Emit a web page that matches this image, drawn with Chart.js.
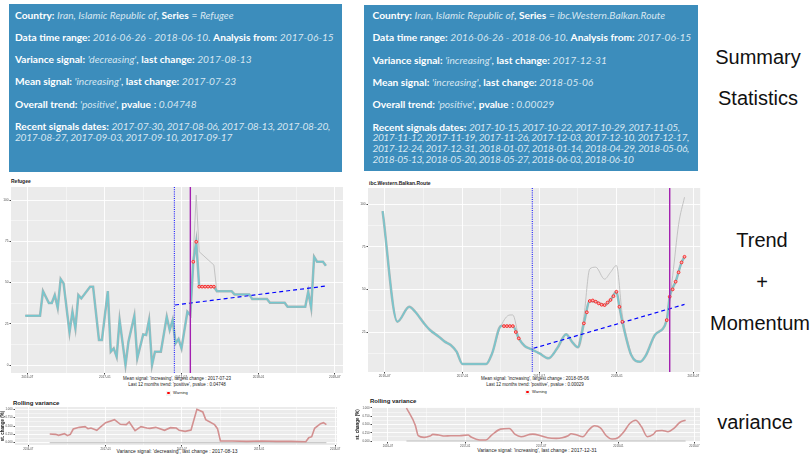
<!DOCTYPE html>
<html>
<head>
<meta charset="utf-8">
<script src="https://cdn.jsdelivr.net/npm/chart.js@4.4.1/dist/chart.umd.min.js"></script>
<style>
  body { margin: 0; background: #fff; width: 811px; height: 455px; overflow: hidden; position: relative; font-family: "Liberation Sans", Arial, sans-serif; }
  .box { position: absolute; background: #3c8dbc; color: #fff; font-family: Lato, "Open Sans", sans-serif; font-size: 10.2px; box-sizing: border-box; overflow: hidden; }
  .box p { margin: 0 0 11.6px 0; line-height: 10.7px; white-space: nowrap; }
  .box b { font-weight: 700; }
  .box i { color: #d6e6f1; font-weight: 400; }
  .box p.rec i { letter-spacing: -0.32px; }
  #box2 p.rec i { letter-spacing: -0.5px; }
  #box1 { left: 9px; top: 4px; width: 333px; height: 168px; padding: 5.6px 3px 0 6px; }
  #box2 { left: 364px; top: 5px; width: 334px; height: 166px; padding: 5.2px 3px 0 8.5px; }
  .side { position: absolute; font-size: 20px; color: #111; line-height: 20px; white-space: nowrap; transform: translateX(-50%); }
  .t { position: absolute; white-space: nowrap; line-height: 1; color: #222; }
  canvas { position: absolute; }
  .key { position: absolute; width: 5px; height: 5px; background: #f2f2f2; }
  .key::after { content: ""; position: absolute; left: 1.2px; top: 1.2px; width: 2.6px; height: 2.6px; border-radius: 50%; background: #f00; }
</style>
</head>
<body>

<div class="box" id="box1">
  <p><b>Country:</b> <i>Iran, Islamic Republic of</i>, <b>Series</b> = <i>Refugee</i></p>
  <p><b>Data time range:</b> <i>2016-06-26 - 2018-06-10</i>. <b>Analysis from:</b> <i>2017-06-15</i></p>
  <p><b>Variance signal:</b> <i>'decreasing'</i>, <b>last change:</b> <i>2017-08-13</i></p>
  <p><b>Mean signal:</b> <i>'increasing'</i>, <b>last change:</b> <i>2017-07-23</i></p>
  <p><b>Overall trend:</b> <i>'positive'</i>, <b>pvalue</b> : <i>0.04748</i></p>
  <p class="rec"><b>Recent signals dates:</b> <i>2017-07-30, 2017-08-06, 2017-08-13, 2017-08-20,<br>2017-08-27, 2017-09-03, 2017-09-10, 2017-09-17</i></p>
</div>

<div class="box" id="box2">
  <p><b>Country:</b> <i>Iran, Islamic Republic of</i>, <b>Series</b> = <i>ibc.Western.Balkan.Route</i></p>
  <p><b>Data time range:</b> <i>2016-06-26 - 2018-06-10</i>. <b>Analysis from:</b> <i>2017-06-15</i></p>
  <p><b>Variance signal:</b> <i>'increasing'</i>, <b>last change:</b> <i>2017-12-31</i></p>
  <p><b>Mean signal:</b> <i>'increasing'</i>, <b>last change:</b> <i>2018-05-06</i></p>
  <p><b>Overall trend:</b> <i>'positive'</i>, <b>pvalue</b> : <i>0.00029</i></p>
  <p class="rec"><b>Recent signals dates:</b> <i>2017-10-15, 2017-10-22, 2017-10-29, 2017-11-05,<br>2017-11-12, 2017-11-19, 2017-11-26, 2017-12-03, 2017-12-10, 2017-12-17,<br>2017-12-24, 2017-12-31, 2018-01-07, 2018-01-14, 2018-04-29, 2018-05-06,<br>2018-05-13, 2018-05-20, 2018-05-27, 2018-06-03, 2018-06-10</i></p>
</div>

<div class="side" style="left:758px; top:47px;">Summary</div>
<div class="side" style="left:758px; top:88px;">Statistics</div>
<div class="side" style="left:762px; top:230px;">Trend</div>
<div class="side" style="left:762px; top:272px;">+</div>
<div class="side" style="left:760px; top:313px;">Momentum</div>
<div class="side" style="left:755px; top:412px;">variance</div>

<!-- panel titles and captions -->
<div class="t" style="left:11px; top:179px; font-size:5px; font-weight:bold;">Refugee</div>
<div class="t" style="left:369px; top:181px; font-size:5px; font-weight:bold;">ibc.Western.Balkan.Route</div>
<div class="t" style="left:177px; top:376px; font-size:4.5px; transform:translateX(-50%); text-align:center; line-height:5.5px;">Mean signal: 'increasing', largest change : 2017-07-23<br>Last 12 months trend: 'positive', pvalue : 0.04748</div>
<div class="t" style="left:535px; top:376px; font-size:4.5px; transform:translateX(-50%); text-align:center; line-height:5.5px;">Mean signal: 'increasing', largest change : 2018-05-06<br>Last 12 months trend: 'positive', pvalue : 0.00029</div>
<div class="key" style="left:166px; top:390.5px;"></div>
<div class="t" style="left:173px; top:391px; font-size:4px;">Warning</div>
<div class="key" style="left:525px; top:389.5px;"></div>
<div class="t" style="left:532px; top:390px; font-size:4px;">Warning</div>
<div class="t" style="left:13px; top:400px; font-size:6px; font-weight:bold;">Rolling variance</div>
<div class="t" style="left:370px; top:398px; font-size:6px; font-weight:bold;">Rolling variance</div>
<div class="t" style="left:177px; top:449px; font-size:5px; transform:translateX(-50%);">Variance signal: 'decreasing', last change : 2017-08-13</div>
<div class="t" style="left:537px; top:448px; font-size:5px; transform:translateX(-50%);">Variance signal: 'increasing', last change : 2017-12-31</div>

<canvas id="mainLeft" width="348" height="200" style="left:0px; top:180px;"></canvas>
<canvas id="mainRight" width="350" height="200" style="left:355px; top:180px;"></canvas>
<canvas id="varLeft" width="345" height="52" style="left:0px; top:400px;"></canvas>
<canvas id="varRight" width="350" height="50" style="left:355px; top:400px;"></canvas>

<script>
// x axis: weeks since 2016-06-26
const xTickWeeks = [0.71, 27, 52.86, 79.14, 105];
const xTickLabels = ['2016-07', '2017-01', '2017-07', '2018-01', '2018-07'];
const xMinorWeeks = [13.9, 40, 66, 92];

const analysisStart = 50.57;   // 2017-06-15

// --- Refugee ---
const refugeeSmooth = [[0,29.9],[5,29.9],[6,44.8],[8,37.6],[9,37.6],[10,42.4],[11,34.7],[12,52.1],[13,49.5],[15,19.8],[16,32.3],[17,22.2],[18,42.4],[19,40.4],[22,47.5],[23,47.5],[25,15.2],[26,15.2],[28,44.8],[29,8.1],[30,10.1],[31,5.0],[32,27.3],[34,0],[35,14.1],[37,29.9],[38,4.1],[40,18.6],[41,18.2],[42,27.3],[43,0],[44,8.1],[46,8.1],[48,29.3],[49,21.2],[50,27.3],[51,13.2],[52,15.8],[53,10.1],[55,32.3],[56,30.3],[57,62.6],[58,74.7],[59,47.5],[64,47.5],[65,44.8],[70,44.8],[71,42.8],[76,42.8],[77,40],[82,40],[83,37.8],[88,37.8],[89,35.3],[95,35.3],[96,44.4],[97,34.7],[98,65.6],[99,62.6],[101,62.6],[102,60.2]];
const refugeeRaw = [[56,30.3],[58,103],[59,68.7],[64,60.6],[65,44.8]];
const refugeeWarnings = [[57,62.6],[58,74.7],[59,47.5],[60,47.5],[61,47.5],[62,47.5],[63,47.5],[64,47.5]];
const refugeeTrend = [[50.8,36.4],[102,47.9]];
const refugeeMeanChange = 56;   // 2017-07-23
const refugeeYTicks = [0, 25, 50, 75, 100];
const refugeeYMinor = [12.5, 37.5, 62.5, 87.5];
const refugeeVar = [[8,0.26],[10,0.25],[11,0.22],[13,0.27],[14,0.21],[15,0.25],[16,0.41],[18,0.46],[20,0.48],[21,0.42],[22,0.44],[24,0.37],[25,0.45],[27,0.6],[30,0.69],[32,0.55],[34,0.54],[35,0.62],[37,0.36],[39,0.48],[41,0.44],[42,0.43],[44,0.46],[47,0.37],[49,0.45],[51,0.44],[52,0.37],[54,0.34],[56,0.38],[58,1.0],[60,0.92],[61,0.69],[64,0.54],[65,0.42],[66,0.05],[70,0.05],[75,0.04],[80,0.05],[85,0.04],[90,0.04],[95,0.03],[96,0.15],[97,0.18],[98,0.43],[100,0.57],[101,0.6],[102,0.54]];

// --- ibc.Western.Balkan.Route ---
const balkanSmooth = [[0,95.9],[5,31.1],[9,39.8],[11,36.9],[14,30.1],[16,26.2],[19,22.3],[21,19.4],[23,17.4],[25,13.5],[27,6.3],[35,6.3],[37,12.5],[40,28.5],[44,28.5],[46,21.3],[48,16.8],[50,15.1],[53,12.5],[56,9.6],[59,15.5],[62,23.7],[64,19.3],[66,16.1],[68,30.1],[70,43.2],[72,42.8],[75,40.8],[77,43.8],[79,48.6],[80,39.8],[81,31],[84,11.5],[87,7.6],[89,11.5],[92,23.3],[96,32],[97,45.7],[99,54.5],[101,65.8],[102,69.1]];
const balkanRaw1 = [[37,12.5],[40,28.5],[43,35],[44,35],[46,22.3],[48,16.8]];
const balkanRaw2 = [[66,16.1],[68,34],[70,62],[72,63],[75,56],[77,60],[79,64],[81,35],[84,11.5]];
const balkanRaw3 = [[92,23.3],[96,33],[98,58],[100,88],[102,104]];
const balkanWarnings = [[41,28.5],[42,28.5],[43,28.5],[44,28.5],[45,25],[46,21.3],[68,30.1],[69,36.6],[70,43.2],[71,43.5],[72,42.8],[73,41.8],[74,41],[75,40.8],[76,42.3],[77,43.8],[78,46],[79,48.6],[80,39.8],[81,31],[96,32],[97,45.7],[98,50],[99,54.5],[100,60],[101,65.8],[102,69.1]];
const balkanTrend = [[51,15.5],[102,41.2]];
const balkanMeanChange = 97;    // 2018-05-06
const balkanYTicks = [25, 50, 75, 100];
const balkanYMinor = [12.5, 37.5, 62.5, 87.5];
const balkanVar = [[7,1.0],[10,0.48],[11,0.16],[13,0.11],[15,0.15],[16,0.2],[18,0.18],[20,0.15],[22,0.16],[25,0.16],[28,0.18],[29,0.12],[32,0.03],[34,0.03],[36,0.18],[39,0.36],[42,0.38],[44,0.2],[46,0.13],[49,0.2],[50,0.21],[53,0.15],[55,0.1],[58,0.08],[60,0.1],[62,0.16],[63,0.22],[65,0.18],[67,0.13],[69,0.33],[71,0.46],[73,0.4],[75,0.16],[77,0.06],[79,0.1],[81,0.28],[83,0.53],[85,0.63],[87,0.43],[89,0.13],[91,0.2],[92,0.3],[94,0.32],[96,0.28],[98,0.38],[100,0.56],[102,0.63]];

const varYTicks = [0, 0.25, 0.5, 0.75, 1];
const varYMinor = [0.125, 0.375, 0.625, 0.875];
const varYLabels = ['0.000', '0.250', '0.500', '0.750', '1.000'];

const TEAL = '#74c8cf';
const OUTLINE = '#a8b4b5';
const RAW = '#bdbdbd';
const VARLINE = '#d39090';

const pts = arr => arr.map(p => ({ x: p[0], y: p[1] }));

// grey ggplot panel + reference lines
const panelPlugin = {
  id: 'panel',
  beforeDraw(chart) {
    const a = chart.chartArea, c = chart.ctx;
    c.save();
    c.fillStyle = '#ebebeb';
    c.fillRect(a.left, a.top, a.right - a.left, a.bottom - a.top);
    c.restore();
  },
  afterDatasetsDraw(chart, args, opts) {
    if (!opts.lines) return;
    const a = chart.chartArea, c = chart.ctx, xs = chart.scales.x;
    opts.lines.forEach(l => {
      const px = xs.getPixelForValue(l.x);
      c.save();
      c.strokeStyle = l.color;
      c.lineWidth = l.width;
      c.setLineDash(l.dash || []);
      c.beginPath();
      c.moveTo(px, a.top);
      c.lineTo(px, a.bottom);
      c.stroke();
      c.restore();
    });
  }
};

function tickList(majors, minors) {
  return majors.map(v => ({ value: v, major: true }))
    .concat(minors.map(v => ({ value: v, major: false })))
    .sort((a, b) => a.value - b.value);
}

function makeChart(id, o) {
  const grid = {
    color: '#ffffff',
    lineWidth: ctx => (ctx.tick && ctx.tick.major ? 0.9 : 0.45),
    tickColor: ctx => (ctx.tick && ctx.tick.major ? '#333333' : 'rgba(0,0,0,0)'),
    tickLength: 1.5,
    drawTicks: true
  };
  const tickFont = { family: 'Liberation Sans', size: o.tickSize };
  new Chart(document.getElementById(id), {
    type: 'line',
    data: { datasets: o.datasets },
    options: {
      responsive: false,
      animation: false,
      events: [],
      layout: { padding: o.padding },
      plugins: { legend: { display: false }, tooltip: { enabled: false }, panel: { lines: o.lines } },
      scales: {
        x: {
          type: 'linear', min: o.xMin, max: o.xMax,
          grid: grid, border: { display: false },
          afterBuildTicks: s => { s.ticks = tickList(xTickWeeks, xMinorWeeks); },
          afterFit: s => { s.height = o.xAxisHeight; },
          ticks: {
            autoSkip: false, maxRotation: 0, padding: 1, color: '#4d4d4d', font: tickFont,
            callback: (v, i, t) => (t[i].major ? xTickLabels[xTickWeeks.indexOf(v)] : '')
          }
        },
        y: {
          type: 'linear', min: o.yMin, max: o.yMax,
          grid: grid, border: { display: false },
          afterBuildTicks: s => { s.ticks = tickList(o.yTicks, o.yMinor); },
          afterFit: s => { s.width = o.yAxisWidth; },
          title: o.yTitle ? { display: true, text: o.yTitle, padding: 0, color: '#222', font: { family: 'Liberation Sans', size: 4.5, weight: 'bold' } } : { display: false },
          ticks: {
            autoSkip: false, padding: 1, color: '#4d4d4d', font: tickFont,
            callback: (v, i, t) => (t[i].major ? o.yLabel(v) : '')
          }
        }
      }
    },
    plugins: [panelPlugin]
  });
}

function warnSet(arr) {
  return { data: pts(arr), showLine: false, pointRadius: 1.4, pointBackgroundColor: '#f7b3b3', pointBorderColor: '#ff1010', pointBorderWidth: 0.8 };
}
function lineSet(arr, color, width, extra) {
  return Object.assign({ data: pts(arr), borderColor: color, borderWidth: width, pointRadius: 0, fill: false }, extra || {});
}
const trendExtra = { borderDash: [4, 3] };

// main charts
makeChart('mainLeft', {
  padding: { top: 7, right: 5, left: 0, bottom: 0 },
  xMin: -4.85, xMax: 107.8, yMin: -4.8, yMax: 107.9,
  xAxisHeight: 7, yAxisWidth: 11, tickSize: 3.2,
  yTicks: refugeeYTicks, yMinor: refugeeYMinor, yLabel: v => String(v),
  lines: [
    { x: analysisStart, color: '#0000ff', width: 1, dash: [1, 1.2] },
    { x: refugeeMeanChange, color: '#a21fb0', width: 1.4 }
  ],
  datasets: [
    warnSet(refugeeWarnings),
    lineSet(refugeeTrend, '#0000ff', 1.2, trendExtra),
    lineSet(refugeeSmooth, TEAL, 1.3),
    lineSet(refugeeSmooth, OUTLINE, 2.5),
    lineSet(refugeeRaw, RAW, 0.9)
  ]
});

makeChart('mainRight', {
  padding: { top: 8, right: 3, left: 0, bottom: 0 },
  xMin: -4.93, xMax: 107.3, yMin: 1.6, yMax: 109.4,
  xAxisHeight: 8, yAxisWidth: 13, tickSize: 3.2,
  yTicks: balkanYTicks, yMinor: balkanYMinor, yLabel: v => String(v),
  lines: [
    { x: analysisStart, color: '#0000ff', width: 1, dash: [1, 1.2] },
    { x: balkanMeanChange, color: '#a21fb0', width: 1.4 }
  ],
  datasets: [
    warnSet(balkanWarnings),
    lineSet(balkanTrend, '#0000ff', 1.2, trendExtra),
    lineSet(balkanSmooth, TEAL, 1.3, { cubicInterpolationMode: 'monotone' }),
    lineSet(balkanSmooth, OUTLINE, 2.5, { cubicInterpolationMode: 'monotone' }),
    lineSet(balkanRaw1, RAW, 0.9, { cubicInterpolationMode: 'monotone' }),
    lineSet(balkanRaw2, RAW, 0.9, { cubicInterpolationMode: 'monotone' }),
    lineSet(balkanRaw3, RAW, 0.9, { cubicInterpolationMode: 'monotone' })
  ]
});

// rolling variance charts
makeChart('varLeft', {
  padding: { top: 7, right: 8, left: 0, bottom: 0 },
  xMin: -3.8, xMax: 105.6, yMin: -0.068, yMax: 1.068,
  xAxisHeight: 7, yAxisWidth: 15, tickSize: 2.8, yTitle: 'st. change (%)',
  yTicks: varYTicks, yMinor: varYMinor, yLabel: v => varYLabels[varYTicks.indexOf(v)],
  datasets: [
    lineSet(refugeeVar, VARLINE, 1.6),
    lineSet([[refugeeVar[0][0], 0], [102, 0]], RAW, 1)
  ]
});

makeChart('varRight', {
  padding: { top: 7, right: 5, left: 0, bottom: 0 },
  xMin: -4.73, xMax: 106.9, yMin: -0.03, yMax: 1.03,
  xAxisHeight: 8, yAxisWidth: 17, tickSize: 2.8, yTitle: 'st. change (%)',
  yTicks: varYTicks, yMinor: varYMinor, yLabel: v => varYLabels[varYTicks.indexOf(v)],
  datasets: [
    lineSet(balkanVar, VARLINE, 1.6, { cubicInterpolationMode: 'monotone' }),
    lineSet([[balkanVar[0][0], 0], [102, 0]], RAW, 1)
  ]
});
</script>
</body>
</html>
